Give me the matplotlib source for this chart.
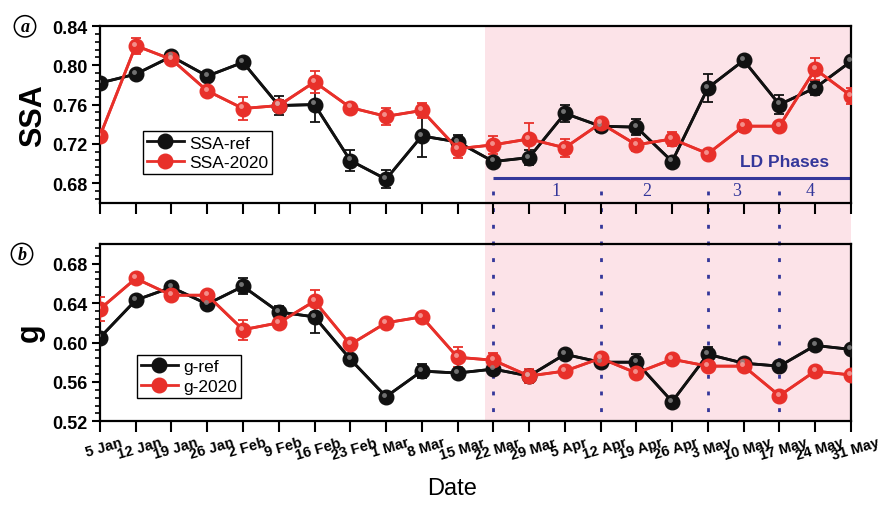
import matplotlib
matplotlib.use("Agg")
import matplotlib.pyplot as plt
import matplotlib.transforms as mtransforms
from matplotlib.patches import Rectangle
from matplotlib.lines import Line2D
from matplotlib.ticker import MultipleLocator, FixedLocator
from matplotlib import font_manager
import numpy as np

plt.rcParams['font.family'] = ['Liberation Sans', 'DejaVu Sans']

# ---- data -------------------------------------------------------------
dates = ['5 Jan', '12 Jan', '19 Jan', '26 Jan', '2 Feb', '9 Feb', '16 Feb',
         '23 Feb', '1 Mar', '8 Mar', '15 Mar', '22 Mar', '29 Mar', '5 Apr',
         '12 Apr', '19 Apr', '26 Apr', '3 May', '10 May', '17 May', '24 May',
         '31 May']

ssa_ref = [0.782, 0.791, 0.809, 0.789, 0.803, 0.759, 0.760, 0.703, 0.684, 0.728, 0.722,
           0.702, 0.706, 0.751, 0.738, 0.737, 0.702, 0.777, 0.805, 0.760, 0.777, 0.804]
ssa_ref_err = [0.004, 0.003, 0.004, 0.004, 0.004, 0.010, 0.018, 0.011, 0.009, 0.021, 0.007,
               0.004, 0.008, 0.009, 0.006, 0.008, 0.003, 0.014, 0.003, 0.010, 0.007, 0.004]
ssa_2020 = [0.728, 0.820, 0.806, 0.774, 0.756, 0.759, 0.783, 0.757, 0.748, 0.754, 0.715,
            0.719, 0.725, 0.716, 0.741, 0.719, 0.725, 0.710, 0.738, 0.738, 0.796, 0.769]
ssa_2020_err = [0.005, 0.008, 0.005, 0.004, 0.012, 0.006, 0.011, 0.005, 0.009, 0.008, 0.009,
                0.009, 0.016, 0.009, 0.005, 0.006, 0.007, 0.004, 0.006, 0.004, 0.011, 0.008]

g_ref = [0.605, 0.643, 0.656, 0.639, 0.657, 0.631, 0.626, 0.583, 0.545, 0.571, 0.569,
         0.573, 0.566, 0.588, 0.580, 0.580, 0.540, 0.588, 0.579, 0.576, 0.597, 0.593]
g_ref_err = [0.003, 0.003, 0.004, 0.003, 0.008, 0.006, 0.016, 0.005, 0.003, 0.007, 0.004,
             0.004, 0.004, 0.003, 0.004, 0.008, 0.003, 0.007, 0.003, 0.003, 0.003, 0.003]
g_2020 = [0.634, 0.665, 0.648, 0.648, 0.613, 0.620, 0.642, 0.598, 0.620, 0.626, 0.585,
          0.582, 0.566, 0.571, 0.584, 0.569, 0.583, 0.576, 0.576, 0.546, 0.571, 0.567]
g_2020_err = [0.012, 0.004, 0.004, 0.004, 0.010, 0.005, 0.011, 0.005, 0.004, 0.004, 0.010,
              0.007, 0.007, 0.004, 0.004, 0.005, 0.003, 0.004, 0.004, 0.004, 0.004, 0.003]

# lockdown phases: boundaries (week index) and labels
phase_bounds = [11, 14, 17, 19]
phase_labels = ['1', '2', '3', '4']
phase_label_x = [12.75, 15.3, 17.8, 19.85]
shade_start = 10.77   # start of the shaded lockdown period (week index)

# ---- style ------------------------------------------------------------
BLACK = '#111111'
RED = '#e8302a'
NAVY = '#34379a'
PINK = '#fce3e8'

# narrow face for the date labels when available
installed = {f.name for f in font_manager.fontManager.ttflist}
if 'Liberation Sans Narrow' in installed:
    date_family, date_size = ['Liberation Sans Narrow', 'DejaVu Sans'], 12
else:
    date_family, date_size = ['Liberation Sans', 'DejaVu Sans'], 10.5

fig = plt.figure(figsize=(8.8, 5.06), dpi=100)
ax1 = fig.add_axes([0.1136, 0.5973, 0.8534, 0.3493])
ax2 = fig.add_axes([0.1136, 0.1654, 0.8534, 0.3504])
x = np.arange(len(dates))


def draw_series(ax, y, err, color, hl, label):
    ax.errorbar(x, y, yerr=err, color=color, lw=2.0, elinewidth=1.3,
                capsize=3.5, capthick=1.3, zorder=3)
    ax.plot(x, y, '-o', color=color, lw=2.0, ms=10.5, mec=color, zorder=4,
            label=label)
    # small shine on each ball marker
    off = mtransforms.ScaledTranslation(-1.2 / 72, 1.5 / 72, fig.dpi_scale_trans)
    ax.plot(x, y, 'o', color=hl, ms=3.5, mec='none', alpha=0.8, zorder=5,
            transform=ax.transData + off)


draw_series(ax1, ssa_ref, ssa_ref_err, BLACK, '#8a8a8a', 'SSA-ref')
draw_series(ax1, ssa_2020, ssa_2020_err, RED, '#f7a7a3', 'SSA-2020')
draw_series(ax2, g_ref, g_ref_err, BLACK, '#8a8a8a', 'g-ref')
draw_series(ax2, g_2020, g_2020_err, RED, '#f7a7a3', 'g-2020')

for ax in (ax1, ax2):
    ax.set_facecolor('none')
    ax.set_xlim(0, len(dates) - 1)
    ax.xaxis.set_major_locator(FixedLocator(x))
    ax.yaxis.set_major_locator(MultipleLocator(0.04))
    ax.yaxis.set_minor_locator(MultipleLocator(0.008))
    for s in ax.spines.values():
        s.set_linewidth(1.6)
    ax.tick_params(axis='x', which='major', direction='out', length=8, width=1.5)
    ax.tick_params(axis='y', which='major', direction='out', length=6, width=1.5,
                   pad=3)
    ax.tick_params(axis='y', which='minor', direction='out', length=3.5, width=1.2)

ax1.set_ylim(0.66, 0.84)
ax2.set_ylim(0.52, 0.70)
ax1.set_xticklabels([])
ax2.set_xticklabels(dates, rotation=16, ha='center', fontsize=date_size,
                    fontweight='bold', family=date_family)
ax2.tick_params(axis='x', pad=2)
for t in ax2.get_xticklabels():
    t.set_transform(t.get_transform() +
                    mtransforms.ScaledTranslation(3 / 72, 0, fig.dpi_scale_trans))

ax1.set_yticks(ax1.get_yticks())
ax2.set_yticks(ax2.get_yticks())
ax1.set_yticklabels([f'{v:.2f}' for v in ax1.get_yticks()])
ax2.set_yticklabels([f'{v:.2f}' for v in ax2.get_yticks()])
ax1.set_ylim(0.66, 0.84)
ax2.set_ylim(0.52, 0.70)
for ax in (ax1, ax2):
    for t in ax.get_yticklabels():
        t.set_fontweight('bold')
        t.set_fontsize(13)

fig.text(0.0375, 0.771, 'SSA', rotation=90, fontsize=22, fontweight='bold',
         ha='center', va='center')
fig.text(0.034, 0.342, 'g', rotation=90, fontsize=22, fontweight='bold',
         ha='center', va='center')
fig.text(0.514, 0.034, 'Date', fontsize=17, ha='center', va='center')

# circled panel letters
for lbl, (px, py) in zip(['a', 'b'], [(0.0284, 0.946), (0.025, 0.496)]):
    fig.text(px, py, lbl, fontsize=13, fontstyle='italic', fontweight='bold',
             family=['Liberation Serif', 'DejaVu Serif'], ha='center', va='center',
             bbox=dict(boxstyle='circle,pad=0.12', fc='white', ec='black', lw=1.1))

# shaded lockdown period across both panels
blend = mtransforms.blended_transform_factory(ax1.transData, fig.transFigure)
y_lo = 0.1654
y_hi = 0.5973 + 0.3493
fig.add_artist(Rectangle((shade_start, y_lo), (len(dates) - 1) - shade_start,
                         y_hi - y_lo, transform=blend, facecolor=PINK,
                         edgecolor='none', zorder=-2))

# dotted phase boundaries
for b in phase_bounds:
    fig.add_artist(Line2D([b, b], [0.621, 0.165], transform=blend, color=NAVY,
                          lw=2.0, linestyle=(0, (1.4, 4.6)), zorder=-1))

# LD phases bar and labels
ax1.plot([phase_bounds[0], len(dates) - 1], [0.685, 0.685], color=NAVY, lw=2.2,
         zorder=2, solid_capstyle='butt')
ax1.text(19.14, 0.702, 'LD Phases', color=NAVY, fontsize=12.5, fontweight='bold',
         ha='center', va='center')
for lx, lt in zip(phase_label_x, phase_labels):
    ax1.text(lx, 0.672, lt, color=NAVY, fontsize=13,
             family=['Liberation Serif', 'DejaVu Serif'], ha='center', va='center')

leg_kw = dict(loc='upper left', fontsize=12.5, frameon=True, fancybox=False,
              edgecolor='black', borderaxespad=0, handlelength=2.1,
              handletextpad=0.3, borderpad=0.25, labelspacing=0.25, framealpha=1)
l1 = ax1.legend(bbox_to_anchor=(0.057, 0.406), **leg_kw)
l2 = ax2.legend(bbox_to_anchor=(0.049, 0.374), **leg_kw)
for lg in (l1, l2):
    lg.get_frame().set_linewidth(1.0)

fig.savefig('out.png', dpi=100)
